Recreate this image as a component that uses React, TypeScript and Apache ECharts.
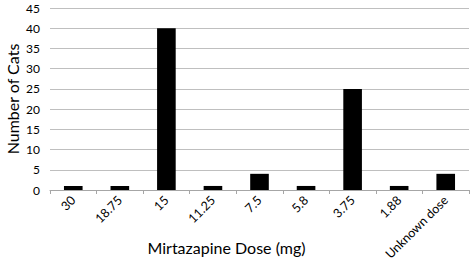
import React, { useEffect, useRef } from "react";
import * as echarts from "echarts";

const categories = ["30", "18.75", "15", "11.25", "7.5", "5.8", "3.75", "1.88", "Unknown dose"];
const catCounts = [1, 1, 40, 1, 4, 1, 25, 1, 4];
const yMin = 0;
const yMax = 45;
const yStep = 5;

export default function App() {
  const ref = useRef<HTMLDivElement>(null);
  useEffect(() => {
    if (!ref.current) return;
    const chart = echarts.init(ref.current, null, { renderer: "svg" });
    const font = "Lato, 'Open Sans', sans-serif";
    chart.setOption({
      animation: false,
      backgroundColor: "#ffffff",
      grid: { left: 50, right: 5, top: 8, bottom: 72, containLabel: false, outerBoundsMode: "none" },
      xAxis: {
        type: "category",
        data: categories,
        name: "Mirtazapine Dose (mg)",
        nameLocation: "middle",
        nameGap: 49,
        nameMoveOverlap: false,
        nameTextStyle: { fontFamily: font, fontSize: 16, color: "#000", padding: [0, 66, 0, 0] },
        axisLine: { lineStyle: { color: "#a6a6a6", width: 1 } },
        axisTick: { show: true, alignWithLabel: false, length: 4, lineStyle: { color: "#a6a6a6" } },
        axisLabel: { rotate: 45, interval: 0, fontFamily: font, fontSize: 12.5, color: "#000", margin: 8 },
      },
      yAxis: {
        type: "value",
        min: yMin,
        max: yMax,
        interval: yStep,
        name: "Number of Cats",
        nameLocation: "middle",
        nameGap: 30,
        nameMoveOverlap: false,
        nameTextStyle: { fontFamily: font, fontSize: 16, color: "#000" },
        axisLine: { show: false },
        axisTick: { show: false },
        axisLabel: { fontFamily: font, fontSize: 12, color: "#000", margin: 10 },
        splitLine: { lineStyle: { color: "#bfbfbf", width: 1 } },
      },
      series: [
        {
          type: "bar",
          data: catCounts,
          barCategoryGap: "60%",
          itemStyle: { color: "#000000" },
        },
      ],
    });
    return () => chart.dispose();
  }, []);
  return <div ref={ref} style={{ position: "fixed", left: 0, top: 0, width: 474, height: 262 }} />;
}
